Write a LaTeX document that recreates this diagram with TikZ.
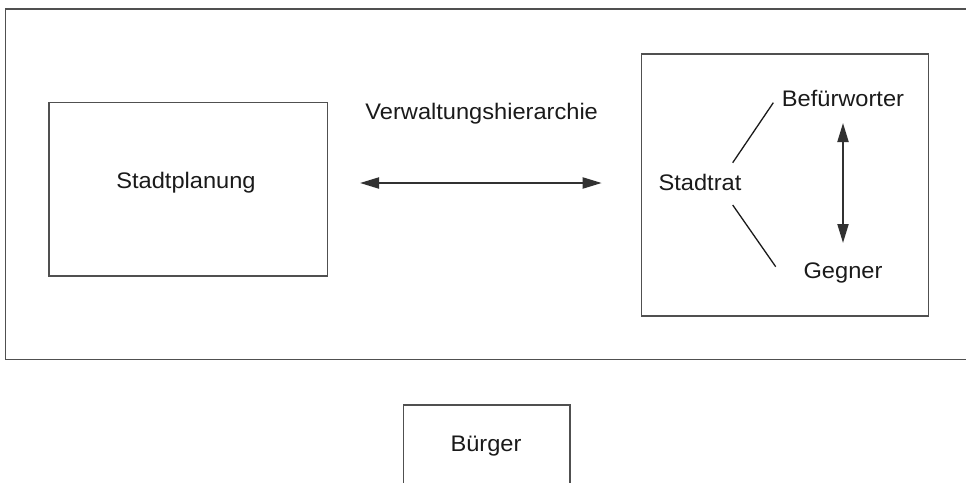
\documentclass[tikz,border=0pt]{standalone}
\usepackage{fontspec}
\setmainfont{Liberation Sans}[FakeStretch=1.05]
\usetikzlibrary{arrows.meta}
\definecolor{frame}{HTML}{505050}
\definecolor{ink}{HTML}{1A1A1A}
\begin{document}
\begin{tikzpicture}[x=1pt,y=-1pt,
  box/.style={draw=frame,line width=1.6pt,rectangle,inner sep=0pt,anchor=north west},
  lbl/.style={font=\fontsize{22.5}{27}\selectfont,text=ink,inner sep=0pt,anchor=base},
  link/.style={draw=ink,line width=1.3pt},
  dbl/.style={draw=ink!90,line width=2pt,{Triangle[length=19pt,width=11pt]}-{Triangle[length=19pt,width=11pt]}}]
  \useasboundingbox (0,0) rectangle (966,482);
  \clip (0,0) rectangle (966,482);

  % outer frame and boxes
  \node[box,minimum width=975pt,minimum height=350.5pt] (outer) at (4.5,8) {};
  \node[box,minimum width=278.4pt,minimum height=173.3pt] (planbox) at (48.3,101.7) {};
  \node[box,minimum width=287pt,minimum height=262pt] (ratbox) at (640.5,53) {};
  \node[box,minimum width=166.5pt,minimum height=100pt] (buergerbox) at (402.7,404) {};

  % labels
  \node[lbl] (planung) at (186,188.3) {Stadtplanung};
  \node[lbl] (hier) at (481.7,119) {Verwaltungshierarchie};
  \node[lbl] (rat) at (700,190) {Stadtrat};
  \node[lbl] (pro) at (843,106) {Befürworter};
  \node[lbl] (contra) at (843,278) {Gegner};
  \node[lbl] (buerger) at (486,451.7) {Bürger};

  % connector end points
  \coordinate (hl) at (360,183);
  \coordinate (hr) at (601.7,183);
  \coordinate (vt) at (843,123);
  \coordinate (vb) at (843,243);
  \coordinate (r1) at (732.7,162.7);
  \coordinate (p1) at (773.3,102.7);
  \coordinate (r2) at (732.7,205);
  \coordinate (c1) at (775.7,266.7);

  % connectors
  \draw[dbl] (hl) -- (hr);
  \draw[dbl] (vt) -- (vb);
  \draw[link] (r1) -- (p1);
  \draw[link] (r2) -- (c1);
\end{tikzpicture}
\end{document}
